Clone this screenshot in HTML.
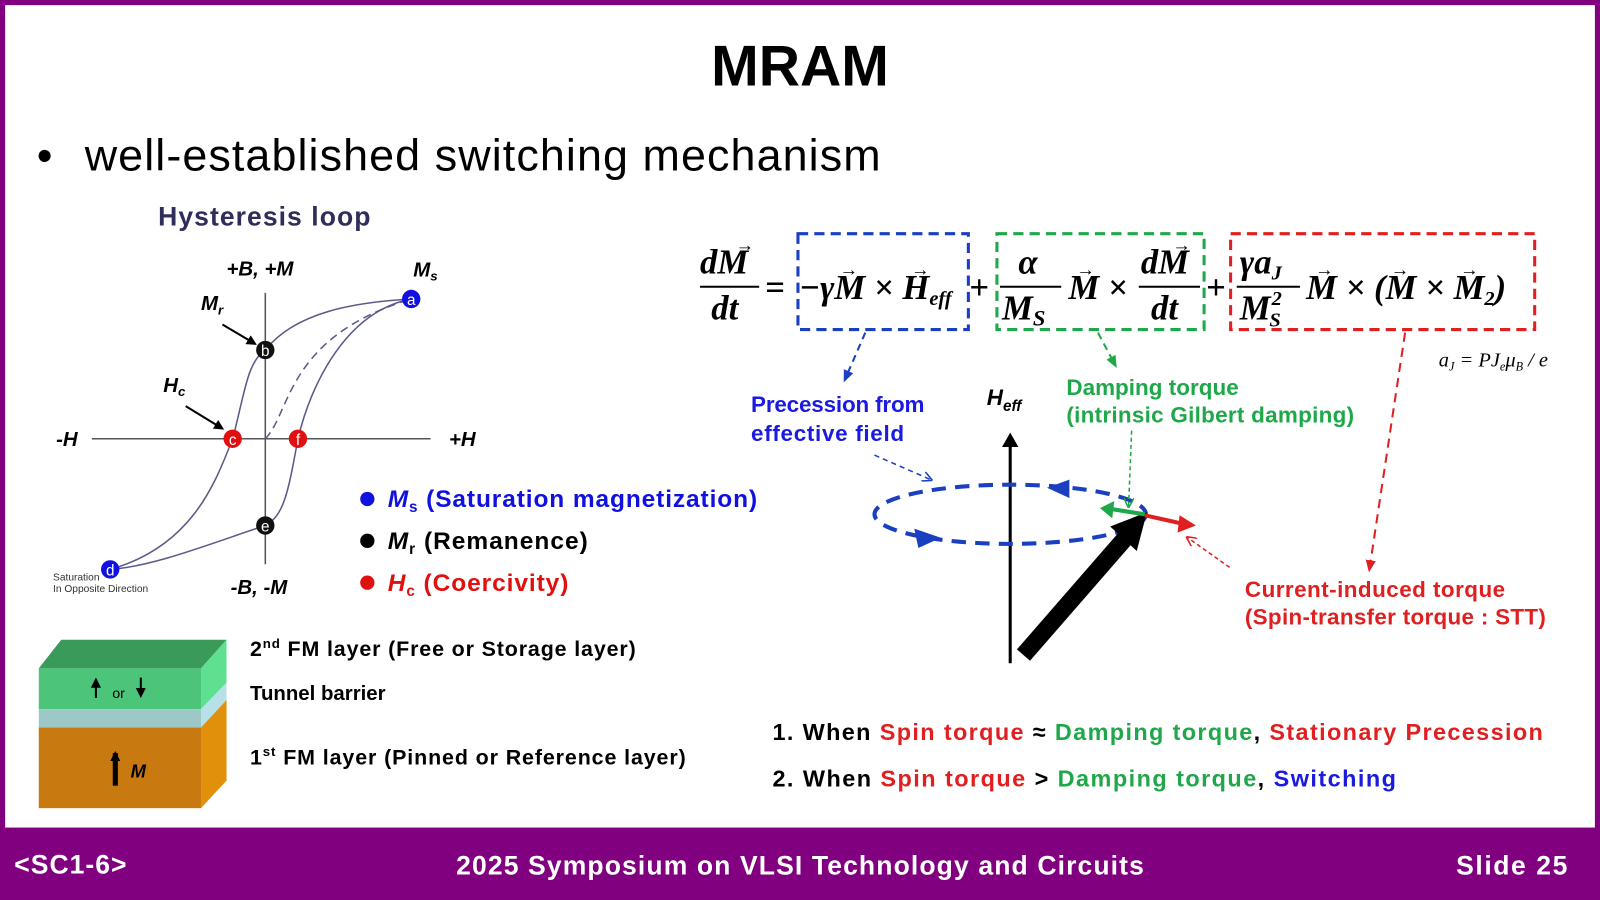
<!DOCTYPE html>
<html><head><meta charset="utf-8"><style>
html,body{margin:0;padding:0;background:#fff;}
svg{display:block;}
.s{font-family:"Liberation Sans",sans-serif;}
.m{font-family:"Liberation Serif",serif;font-style:italic;font-weight:bold;}
</style></head><body>
<svg width="1600" height="900" viewBox="0 0 1568 882" preserveAspectRatio="none" xmlns="http://www.w3.org/2000/svg">
<defs>
<marker id="ab" markerWidth="10" markerHeight="10" refX="8" refY="5" orient="auto" markerUnits="userSpaceOnUse"><path d="M0,0 L10,5 L0,10 z" fill="#000"/></marker>
<marker id="ob" markerWidth="10" markerHeight="10" refX="8" refY="5" orient="auto" markerUnits="userSpaceOnUse"><path d="M0,0 L10,5 L0,10" fill="none" stroke="#1a3fc0" stroke-width="1.5"/></marker>
<marker id="og" markerWidth="10" markerHeight="10" refX="8" refY="5" orient="auto" markerUnits="userSpaceOnUse"><path d="M0,0 L10,5 L0,10" fill="none" stroke="#1fa84a" stroke-width="1.5"/></marker>
<marker id="or" markerWidth="10" markerHeight="10" refX="8" refY="5" orient="auto" markerUnits="userSpaceOnUse"><path d="M0,0 L10,5 L0,10" fill="none" stroke="#e02020" stroke-width="1.5"/></marker>
<marker id="fb" markerWidth="12" markerHeight="12" refX="9" refY="6" orient="auto" markerUnits="userSpaceOnUse"><path d="M0,1 L12,6 L0,11 z" fill="#1a3fc0"/></marker>
<marker id="fg" markerWidth="12" markerHeight="12" refX="9" refY="6" orient="auto" markerUnits="userSpaceOnUse"><path d="M0,1 L12,6 L0,11 z" fill="#1fa84a"/></marker>
<marker id="fr" markerWidth="12" markerHeight="12" refX="9" refY="6" orient="auto" markerUnits="userSpaceOnUse"><path d="M0,1 L12,6 L0,11 z" fill="#e02020"/></marker>
</defs>
<rect x="0" y="0" width="1568" height="882" fill="#800080"/>
<rect x="5" y="5" width="1558" height="806" fill="#fff"/>

<text x="784" y="84" text-anchor="middle" class="s" font-weight="bold" font-size="56" fill="#000">MRAM</text>
<text x="36" y="167" class="s" font-size="44" fill="#000">•</text>
<text x="83" y="167" class="s" font-size="44" fill="#000" textLength="780">well-established switching mechanism</text>
<text x="155" y="221" class="s" font-weight="bold" font-size="26" fill="#2e2e5a" textLength="208">Hysteresis loop</text>

<!-- hysteresis -->
<g stroke="#555" stroke-width="1.5" fill="none">
<line x1="90" y1="430" x2="422" y2="430"/>
<line x1="260" y1="287" x2="260" y2="553"/>
</g>
<g stroke="#5a5a8a" stroke-width="1.5" fill="none">
<path d="M108,558 C190,535 212,470 228,430 C240,385 242,355 260,343 C290,305 350,296 403,293"/>
<path d="M403,293 C340,305 305,375 292,430 C282,485 278,505 260,515 C200,535 150,555 108,558"/>
<path d="M260,430 C285,405 280,330 403,293" stroke-dasharray="8,5"/>
</g>
<line x1="218" y1="318" x2="250" y2="337" stroke="#000" stroke-width="2" marker-end="url(#ab)"/>
<line x1="182" y1="398" x2="218" y2="420" stroke="#000" stroke-width="2" marker-end="url(#ab)"/>
<g class="s" font-style="italic" font-weight="bold" font-size="20" fill="#000">
<text x="222" y="270">+B, +M</text>
<text x="405" y="271">M<tspan font-size="13" dy="4">s</tspan></text>
<text x="197" y="304">M<tspan font-size="13" dy="4">r</tspan></text>
<text x="160" y="384">H<tspan font-size="13" dy="4">c</tspan></text>
<text x="55" y="437">-H</text>
<text x="440" y="437">+H</text>
<text x="226" y="582">-B, -M</text>
</g>
<text x="52" y="569" class="s" font-size="10" fill="#333">Saturation</text>
<text x="52" y="580" class="s" font-size="10" fill="#333">In Opposite Direction</text>
<g class="s" font-size="15" fill="#fff" text-anchor="middle">
<circle cx="403" cy="293" r="9" fill="#1010e0"/><text x="403" y="299">a</text>
<circle cx="260" cy="343" r="9" fill="#111"/><text x="260" y="349">b</text>
<circle cx="228" cy="430" r="9" fill="#e01010"/><text x="228" y="436">c</text>
<circle cx="292" cy="430" r="9" fill="#e01010"/><text x="292" y="436">f</text>
<circle cx="260" cy="515" r="9" fill="#111"/><text x="260" y="521">e</text>
<circle cx="108" cy="558" r="9" fill="#1010e0"/><text x="108" y="564">d</text>
</g>
<g class="s" font-weight="bold" font-size="24">
<circle cx="360" cy="489" r="7" fill="#1010e0"/>
<text x="380" y="497" fill="#1010e0" textLength="362"><tspan font-style="italic">M</tspan><tspan font-size="15" dy="5">s</tspan><tspan dy="-5"> (Saturation magnetization)</tspan></text>
<circle cx="360" cy="530" r="7" fill="#000"/>
<text x="380" y="538" fill="#000" textLength="196"><tspan font-style="italic">M</tspan><tspan font-size="15" dy="5">r</tspan><tspan dy="-5"> (Remanence)</tspan></text>
<circle cx="360" cy="571" r="7" fill="#e01010"/>
<text x="380" y="579" fill="#e01010" textLength="177"><tspan font-style="italic">H</tspan><tspan font-size="15" dy="5">c</tspan><tspan dy="-5"> (Coercivity)</tspan></text>
</g>

<!-- MTJ block -->
<polygon points="38,655 60,627 222,627 197,655" fill="#3a9a5a"/>
<rect x="38" y="655" width="159" height="40" fill="#4cc47a"/>
<rect x="38" y="695" width="159" height="18" fill="#9ec8c8"/>
<rect x="38" y="713" width="159" height="79" fill="#c87a10"/>
<polygon points="197,655 222,627 222,669 197,695" fill="#5ee090"/>
<polygon points="197,695 222,669 222,686 197,713" fill="#b8e0e8"/>
<polygon points="197,713 222,686 222,765 197,792" fill="#e0900a"/>
<line x1="94" y1="684" x2="94" y2="666" stroke="#000" stroke-width="2" marker-end="url(#ab)"/>
<line x1="138" y1="664" x2="138" y2="682" stroke="#000" stroke-width="2" marker-end="url(#ab)"/>
<text x="110" y="684" class="s" font-size="14" fill="#000">or</text>
<line x1="113" y1="770" x2="113" y2="738" stroke="#000" stroke-width="5" marker-end="url(#ab)"/>
<text x="128" y="762" class="s" font-style="italic" font-weight="bold" font-size="18" fill="#000">M</text>
<g class="s" font-weight="bold" font-size="21" fill="#000">
<text x="245" y="643" textLength="378">2<tspan font-size="13" dy="-8">nd</tspan><tspan dy="8"> FM layer (Free or Storage layer)</tspan></text>
<text x="245" y="686" font-size="20">Tunnel barrier</text>
<text x="245" y="749" textLength="427">1<tspan font-size="13" dy="-8">st</tspan><tspan dy="8"> FM layer (Pinned or Reference layer)</tspan></text>
</g>

<!-- equation -->
<g class="m" font-size="34" fill="#000">
<text x="686" y="268">dM</text>
<line x1="686" y1="281" x2="744" y2="281" stroke="#000" stroke-width="2"/>
<text x="697" y="313">dt</text>
<text x="750" y="293" font-style="normal">=</text>
<text x="783" y="293">−γM × H<tspan font-size="20" dy="6">eff</tspan></text>
<text x="950" y="293" font-style="normal">+</text>
<text x="998" y="268">α</text>
<line x1="980" y1="281" x2="1040" y2="281" stroke="#000" stroke-width="2"/>
<text x="982" y="313">M<tspan font-size="22" dy="6">S</tspan></text>
<text x="1047" y="293">M ×</text>
<text x="1118" y="268">dM</text>
<line x1="1116" y1="281" x2="1176" y2="281" stroke="#000" stroke-width="2"/>
<text x="1128" y="313">dt</text>
<text x="1182" y="293" font-style="normal">+</text>
<text x="1215" y="268">γa<tspan font-size="20" dy="6">J</tspan></text>
<line x1="1212" y1="281" x2="1274" y2="281" stroke="#000" stroke-width="2"/>
<text x="1215" y="313">M<tspan font-size="20" dx="1" dy="-14">2</tspan></text>
<text x="1244" y="320" font-size="20">S</text>
<text x="1280" y="293">M × (M × M<tspan font-size="20" dy="6">2</tspan><tspan dy="-6">)</tspan></text>
</g>
<g font-family="Liberation Serif,serif" font-size="18" fill="#000" text-anchor="middle">
<text x="730" y="246">→</text>
<text x="832" y="270">→</text>
<text x="902" y="270">→</text>
<text x="1064" y="270">→</text>
<text x="1158" y="246">→</text>
<text x="1298" y="270">→</text>
<text x="1372" y="270">→</text>
<text x="1440" y="270">→</text>
</g>
<rect x="782" y="229" width="167" height="94" fill="none" stroke="#1a3fc0" stroke-width="3" stroke-dasharray="10,6"/>
<rect x="977" y="229" width="203" height="94" fill="none" stroke="#1fa84a" stroke-width="3" stroke-dasharray="10,6"/>
<rect x="1206" y="229" width="298" height="94" fill="none" stroke="#e02020" stroke-width="3" stroke-dasharray="10,6"/>
<text x="1410" y="359" font-family="Liberation Serif,serif" font-style="italic" font-size="20" fill="#000">a<tspan font-size="12" dy="4">J</tspan><tspan dy="-4"> = PJ</tspan><tspan font-size="12" dy="4">e</tspan><tspan dy="-4">μ</tspan><tspan font-size="12" dy="4">B</tspan><tspan dy="-4"> / e</tspan></text>

<line x1="848" y1="326" x2="828" y2="372" stroke="#1a3fc0" stroke-width="2" stroke-dasharray="7,5" marker-end="url(#fb)"/>
<line x1="1076" y1="326" x2="1093" y2="358" stroke="#1fa84a" stroke-width="2" stroke-dasharray="7,5" marker-end="url(#fg)"/>
<line x1="1377" y1="326" x2="1342" y2="558" stroke="#e02020" stroke-width="2" stroke-dasharray="9,6" marker-end="url(#fr)"/>

<g class="s" font-weight="bold" font-size="22">
<text x="736" y="404" fill="#1a1ae0" textLength="170">Precession from</text>
<text x="736" y="432" fill="#1a1ae0" textLength="150">effective field</text>
<text x="1045" y="387" fill="#1fa84a" textLength="169">Damping torque</text>
<text x="1045" y="414" fill="#1fa84a" textLength="282">(intrinsic Gilbert damping)</text>
<text x="1220" y="585" fill="#e02020" textLength="255">Current-induced torque</text>
<text x="1220" y="612" fill="#e02020" textLength="295">(Spin-transfer torque : STT)</text>
</g>
<text x="967" y="397" class="s" font-style="italic" font-weight="bold" font-size="22" fill="#000">H<tspan font-size="15" dy="6">eff</tspan></text>

<!-- precession diagram -->
<line x1="990" y1="650" x2="990" y2="436" stroke="#000" stroke-width="3"/>
<path d="M982,438 L990,424 L998,438 z" fill="#000"/>
<ellipse cx="990" cy="504" rx="133" ry="29" fill="none" stroke="#1a3fc0" stroke-width="4" stroke-dasharray="14,9"/>
<path d="M1048,470 L1026,478 L1048,488 z" fill="#1a3fc0"/>
<path d="M896,518 L922,527 L900,537 z" fill="#1a3fc0"/>
<line x1="1003" y1="642" x2="1104" y2="526" stroke="#000" stroke-width="17"/>
<path d="M1088,516 L1124,502 L1114,540 z" fill="#000"/>
<line x1="1122" y1="504" x2="1090" y2="499" stroke="#1fa84a" stroke-width="4"/>
<path d="M1092,491 L1078,498 L1090,508 z" fill="#1fa84a"/>
<line x1="1122" y1="505" x2="1158" y2="513" stroke="#e02020" stroke-width="4"/>
<path d="M1156,505 L1172,515 L1154,522 z" fill="#e02020"/>
<line x1="857" y1="446" x2="912" y2="470" stroke="#1a3fc0" stroke-width="1.5" stroke-dasharray="5,4" marker-end="url(#ob)"/>
<line x1="1109" y1="422" x2="1106" y2="496" stroke="#1fa84a" stroke-width="1.5" stroke-dasharray="4,3" marker-end="url(#og)"/>
<line x1="1205" y1="556" x2="1164" y2="527" stroke="#e02020" stroke-width="1.5" stroke-dasharray="4,3" marker-end="url(#or)"/>

<g class="s" font-weight="bold" font-size="23">
<text x="757" y="725" textLength="755"><tspan fill="#000">1. When </tspan><tspan fill="#e02020">Spin torque</tspan><tspan fill="#000"> ≈ </tspan><tspan fill="#1fa84a">Damping torque</tspan><tspan fill="#000">, </tspan><tspan fill="#e02020">Stationary Precession</tspan></text>
<text x="757" y="771" textLength="611"><tspan fill="#000">2. When </tspan><tspan fill="#e02020">Spin torque</tspan><tspan fill="#000"> &gt; </tspan><tspan fill="#1fa84a">Damping torque</tspan><tspan fill="#000">, </tspan><tspan fill="#1a1ae0">Switching</tspan></text>
</g>

<!-- footer -->
<g class="s" font-weight="bold" font-size="26" fill="#fff">
<text x="14" y="856" textLength="110">&lt;SC1-6&gt;</text>
<text x="447" y="857" textLength="674">2025 Symposium on VLSI Technology and Circuits</text>
<text x="1427" y="857" textLength="109">Slide 25</text>
</g>
</svg>
</body></html>
